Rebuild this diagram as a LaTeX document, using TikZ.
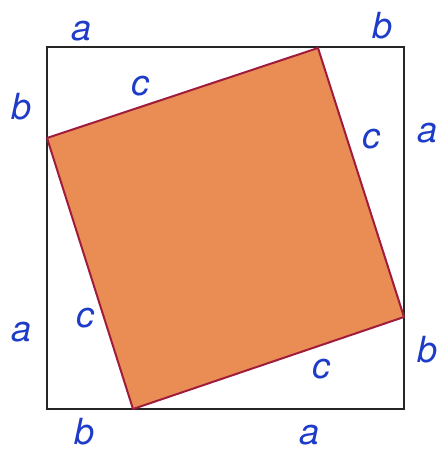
\documentclass[tikz,border=0pt]{standalone}
\usepackage{fontspec}
\setsansfont{TeX Gyre Heros}
\definecolor{lblblue}{HTML}{1E3CC8}
\definecolor{sqfill}{HTML}{E98D55}
\definecolor{sqedge}{HTML}{A01C3C}
\tikzset{
  lbl/.style={inner sep=0.75pt, text=lblblue, font=\fontsize{27}{30}\selectfont\sffamily\itshape},
  outer/.style={draw=black!85, line width=1.5pt},
  inner/.style={draw=sqedge, fill=sqfill, line width=1.5pt, line join=round}
}

\begin{document}
\begin{tikzpicture}[x=0.75pt,y=0.75pt,yscale=-1,xscale=1]
\useasboundingbox (0,0) rectangle (443,453);
% corners of the big square
\coordinate (tl) at (47,47);
\coordinate (tr) at (404,47);
\coordinate (br) at (404,409);
\coordinate (bl) at (47,409);
% corners of the tilted square
\coordinate (pt) at (318,48);
\coordinate (pr) at (404,317);
\coordinate (pb) at (133,409);
\coordinate (pl) at (47,138);

\draw[outer] (tl) -- (tr) -- (br) -- (bl) -- cycle;
\draw[inner] (pt) -- (pr) -- (pb) -- (pl) -- cycle;

% Text Node
\node[lbl] (atop) at (82,31) {a};
\node[lbl] (btop) at (383,26) {b};
% Text Node
\node[lbl] (bleft) at (22,107) {b};
\node[lbl] (aleft) at (22,332) {a};
% Text Node
\node[lbl] (aright) at (428,133) {a};
\node[lbl] (bright) at (428,350) {b};
% Text Node
\node[lbl] (bbot) at (85,432) {b};
\node[lbl] (abot) at (310,435) {a};
% Text Node
\node[lbl] (ctop) at (140,86) {c};
\node[lbl] (cright) at (371,139) {c};
\node[lbl] (cleft) at (85,318) {c};
\node[lbl] (cbot) at (321,369) {c};
\end{tikzpicture}
\end{document}
